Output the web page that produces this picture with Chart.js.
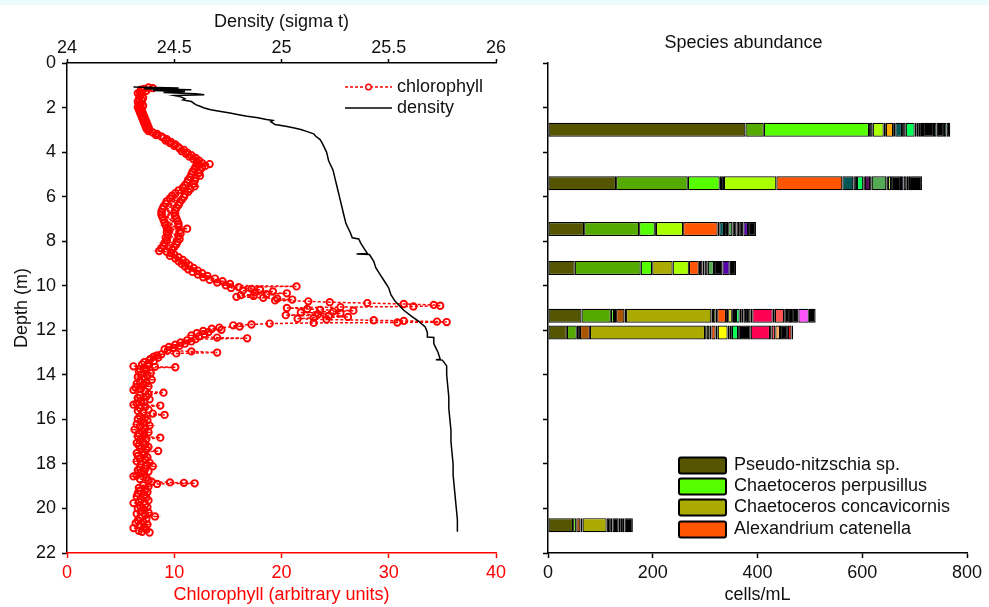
<!DOCTYPE html>
<html><head><meta charset="utf-8">
<script src="https://cdn.jsdelivr.net/npm/chart.js@4.4.1/dist/chart.umd.min.js"></script>
<style>
html,body{margin:0;padding:0;background:#fff;}
#wrap{position:relative;width:989px;height:607px;overflow:hidden;background:#fff;}
#band{position:absolute;left:0;top:0;width:989px;height:5px;background:#eefbfd;}
#profile{position:absolute;left:0;top:0;}
#species{position:absolute;left:520px;top:0;}
</style></head><body>
<div id="wrap"><div id="band"></div>
<canvas id="profile" width="520" height="607"></canvas>
<canvas id="species" width="469" height="607"></canvas>
</div>
<script>
// ---------- DATA ----------
// Chlorophyll profile: [depth (m), chlorophyll (arbitrary units)]
const chlorophyll = [
[1.10,7.6],[1.13,8.0],[1.16,7.2],[1.20,6.9],[1.25,7.4],[1.30,6.8],[1.36,6.6],[1.42,6.9],
[1.50,6.8],[1.56,7.1],[1.62,6.7],[1.68,7.0],[1.74,6.6],[1.80,6.9],[1.86,6.7],[1.92,7.1],[1.98,6.6],[2.04,6.9],
[2.10,6.7],[2.16,7.0],[2.22,6.8],[2.28,7.1],[2.34,6.9],[2.40,7.2],[2.46,7.0],[2.52,7.3],[2.58,7.1],[2.64,7.4],
[2.70,7.2],[2.76,7.5],[2.82,7.3],[2.88,7.6],[2.94,7.4],[3.00,7.7],[3.06,7.6],
[3.12,8.0],[3.18,8.4],[3.24,8.3],[3.30,8.8],[3.36,9.0],[3.42,9.3],[3.48,9.2],[3.54,9.7],[3.60,9.6],[3.66,10.1],
[3.72,10.0],[3.78,10.4],[3.84,10.5],[3.90,10.9],[3.96,10.7],[4.02,11.2],[4.08,11.1],[4.14,11.6],[4.20,11.4],
[4.26,12.0],[4.32,11.8],[4.38,12.3],[4.44,12.1],[4.50,12.6],[4.54,13.3],[4.58,12.2],[4.62,12.9],[4.66,12.0],
[4.70,12.6],[4.76,11.9],[4.82,12.4],[4.88,11.7],[4.94,12.3],[5.00,11.6],[5.06,12.4],[5.12,11.5],[5.18,12.0],
[5.24,11.3],[5.30,11.9],[5.36,11.2],[5.42,11.8],
[5.48,11.0],[5.54,11.9],[5.60,10.8],[5.66,11.5],[5.72,10.4],[5.78,11.3],[5.84,10.1],[5.90,11.0],[5.96,9.8],
[6.02,10.9],[6.08,9.6],[6.14,10.7],[6.20,9.3],[6.26,10.5],[6.32,9.2],[6.38,10.4],[6.44,9.0],[6.50,10.2],
[6.56,8.9],[6.62,10.1],[6.68,8.8],[6.74,10.0],[6.80,8.8],[6.86,10.1],[6.92,8.9],[6.98,10.2],[7.04,9.0],
[7.10,10.3],[7.16,9.1],[7.22,10.4],[7.28,9.2],[7.34,10.4],[7.40,9.3],[7.44,11.2],[7.48,9.4],[7.54,10.5],
[7.60,9.3],[7.66,10.6],[7.72,9.4],[7.78,10.4],[7.84,9.2],[7.90,10.5],[7.96,9.3],[8.02,10.3],[8.08,9.1],
[8.14,10.2],[8.20,9.0],[8.26,10.0],[8.32,8.8],[8.38,9.8],[8.44,8.6],[8.48,9.3],
[8.54,9.7],[8.60,10.0],
[8.66,9.6],[8.72,10.4],[8.78,10.1],[8.84,10.8],[8.90,10.4],[8.96,11.1],[9.02,10.7],[9.08,11.4],[9.14,11.0],
[9.20,11.8],[9.26,11.3],[9.32,12.2],[9.38,11.7],[9.44,12.6],[9.50,12.2],[9.56,13.1],[9.62,12.7],[9.68,13.8],
[9.74,13.3],[9.80,14.5],[9.86,14.0],[9.92,15.2],[9.98,14.8],[10.03,21.4],[10.06,16.0],[10.10,15.3],[10.14,17.2],
[10.18,18.0],[10.22,16.4],[10.26,19.2],[10.30,17.5],[10.34,20.5],[10.38,18.6],[10.42,16.2],[10.46,17.4],
[10.50,15.8],[10.54,18.3],[10.58,19.6],[10.62,21.0],[10.66,19.4],[10.70,22.5],[10.74,24.5],[10.78,28.0],
[10.82,31.4],[10.86,34.2],[10.90,34.8],[10.93,32.3],[10.96,25.5],[11.00,20.5],[11.04,22.4],[11.08,23.6],
[11.12,26.7],[11.16,24.8],[11.20,21.8],[11.24,25.5],[11.28,23.4],[11.32,20.4],[11.36,24.4],[11.40,26.2],
[11.44,23.0],[11.48,21.5],[11.52,24.2],[11.55,28.6],[11.58,31.4],[11.61,34.5],[11.63,35.4],[11.65,30.8],
[11.67,23.0],[11.70,18.9],[11.74,17.2],[11.78,15.5],[11.83,16.1],[11.88,14.2],[11.93,13.5],[11.98,14.4],
[12.03,12.7],[12.08,13.2],[12.13,12.1],[12.18,12.8],[12.23,11.6],[12.28,12.3],[12.33,14.0],[12.36,16.8],
[12.40,12.0],[12.45,11.2],[12.50,11.6],[12.55,10.6],[12.60,11.0],[12.65,10.1],[12.70,10.5],[12.75,9.5],
[12.80,9.9],[12.85,9.1],[12.90,9.4],[12.95,11.6],[13.00,14.0],[13.04,10.2],[13.08,8.8],[13.13,8.4],[13.18,8.1],
[13.23,8.5],[13.28,7.8],[13.33,7.7],[13.38,8.1],[13.43,7.2],[13.48,7.6],[13.53,7.0],[13.58,7.5],[13.62,6.2],
[13.64,8.2],[13.66,10.1],[13.70,7.3],[13.75,6.8],
[13.80,7.4],[13.86,6.7],[13.92,7.8],[13.98,6.9],[14.04,7.5],[14.10,6.6],[14.16,7.2],[14.22,7.9],[14.28,6.8],
[14.34,7.4],[14.40,6.5],[14.46,7.1],[14.52,7.6],[14.58,6.4],[14.64,6.9],[14.68,6.2],[14.74,7.3],[14.80,9.0],
[14.86,7.6],[14.92,6.8],[14.98,7.4],[15.04,6.6],[15.10,7.7],[15.16,6.9],[15.22,7.2],[15.28,6.5],[15.34,6.2],
[15.38,8.7],[15.44,7.3],[15.50,6.8],[15.56,7.6],[15.62,6.6],[15.68,7.1],[15.74,8.0],[15.80,9.1],[15.86,6.8],
[15.92,7.3],[15.98,6.6],[16.04,7.5],[16.10,6.9],[16.16,7.2],[16.22,6.5],[16.28,7.7],[16.34,6.8],[16.40,7.3],
[16.46,6.3],[16.52,7.0],[16.58,7.6],[16.64,6.7],[16.70,7.2],[16.76,6.6],[16.82,8.7],[16.88,7.4],[16.94,6.8],
[17.00,7.1],[17.06,6.5],[17.12,7.3],[17.18,6.7],[17.24,7.6],[17.30,6.9],[17.36,7.4],[17.42,8.5],[17.48,7.0],
[17.52,6.5],[17.58,7.2],[17.64,6.6],[17.70,7.5],[17.76,6.8],[17.82,7.3],[17.88,6.5],[17.94,7.7],[18.00,6.9],
[18.06,7.4],[18.11,8.0],[18.16,6.8],[18.22,7.3],[18.28,6.6],[18.34,7.6],[18.40,6.9],[18.46,7.2],[18.52,6.5],
[18.56,6.2],[18.62,7.4],[18.68,6.8],[18.74,7.6],[18.80,7.9],[18.83,9.6],[18.85,10.9],[18.87,11.9],[18.90,8.4],
[18.96,7.1],[19.02,7.6],[19.08,6.7],[19.14,7.3],[19.20,6.8],[19.26,7.5],[19.32,6.6],[19.38,7.2],[19.46,6.5],
[19.52,7.4],[19.58,6.9],[19.64,7.6],[19.70,6.7],[19.76,6.2],[19.82,7.3],[19.88,6.8],[19.94,7.5],[20.00,6.6],
[20.06,7.2],[20.12,6.9],[20.18,7.6],[20.24,6.5],[20.30,7.3],[20.36,8.2],[20.42,6.8],[20.48,7.4],[20.54,6.6],
[20.60,7.1],[20.66,6.4],[20.72,7.5],[20.78,6.8],[20.84,7.2],[20.88,6.2],[20.94,7.4],[21.00,6.7],[21.05,7.0],
[21.08,7.7]
];

// Density profile: [depth (m), sigma t]
const density = [
[1.08,24.31],[1.12,24.52],[1.16,24.36],[1.20,24.58],[1.24,24.40],[1.28,24.55],[1.32,24.45],[1.38,24.60],
[1.42,24.64],[1.46,24.50],[1.52,24.53],[1.60,24.55],[1.66,24.54],[1.73,24.58],[1.80,24.59],[1.87,24.60],
[1.94,24.62],[2.02,24.64],[2.10,24.67],[2.17,24.71],[2.25,24.76],[2.32,24.80],[2.39,24.84],[2.46,24.89],
[2.54,24.93],[2.58,24.96],[2.64,24.95],[2.70,24.96],[2.76,24.97],[2.84,25.02],[2.92,25.06],[2.99,25.09],
[3.08,25.12],[3.18,25.15],[3.29,25.16],[3.44,25.18],[3.60,25.19],[3.80,25.20],[4.00,25.21],[4.40,25.22],
[4.80,25.24],[5.20,25.25],[5.60,25.26],[6.00,25.27],[6.40,25.28],[6.80,25.29],[7.20,25.30],[7.60,25.32],
[7.85,25.33],[7.90,25.36],[8.10,25.37],[8.40,25.39],[8.55,25.40],[8.58,25.35],[8.60,25.41],[8.90,25.43],
[9.20,25.44],[9.50,25.46],[9.80,25.48],[10.10,25.50],[10.40,25.51],[10.70,25.53],[10.90,25.55],[11.10,25.57],
[11.40,25.61],[11.60,25.64],[11.85,25.67],[12.10,25.68],[12.30,25.68],[12.32,25.71],[12.60,25.71],
[12.80,25.72],[13.00,25.73],[13.30,25.74],[13.32,25.72],[13.34,25.75],[13.60,25.77],[14.00,25.77],
[14.50,25.775],[15.00,25.78],[15.50,25.78],[16.00,25.785],[16.50,25.79],[17.00,25.79],[17.50,25.795],
[18.00,25.80],[18.50,25.80],[19.00,25.805],[19.50,25.81],[20.00,25.815],[20.50,25.82],[20.90,25.82],[21.05,25.82]
];

// Species abundance samples (depth of each bar, m)
const barDepths = [3.0, 5.4, 7.45, 9.2, 11.35, 12.1, 20.75];
const speciesLabels = [
 "Pseudo-nitzschia sp.","Chaetoceros sp.","Chaetoceros perpusillus","Other taxa 1","Taxon D","Other taxa 2",
 "Chaetoceros concavicornis","Other taxa 3","Taxon F","Other taxa 4","Alexandrium catenella","Other taxa 5",
 "Taxon H","Other taxa 6","Taxon I","Other taxa 7","Taxon J","Other taxa 8","Taxon L","Other taxa 9",
 "Taxon M","Other taxa 10","Taxon N","Other taxa 11","Taxon O","Other taxa 12","Taxon P","Other taxa 13",
 "Taxon Q","Other taxa 14","Taxon R","Taxon S","Other taxa 15","Taxon T","Other taxa 16","Taxon U","Taxon V",
 "Other taxa 17","Taxon W","Other taxa 18","Taxon X","Other taxa 19"
];
// cells/mL per species, one value per bar depth
const cellsPerSpecies = [
 [377,130,69,51,64,36,48],
 [35,137,105,126,56,19,0],
 [201,61,30,22,6,0,6],
 [7,8,2,0,4,6,0],
 [0,0,0,0,16,19,8],
 [0,0,0,0,3,0,4],
 [0,0,0,39,163,220,46],
 [0,0,0,0,3,3,8],
 [21,100,52,31,5,5,0],
 [4,0,0,0,3,4,0],
 [0,126,66,19,17,8,0],
 [0,0,3,7,4,4,0],
 [14,0,0,0,0,0,0],
 [4,0,0,0,0,0,0],
 [0,0,0,0,7,19,0],
 [0,0,0,0,2,4,0],
 [13,21,9,4,4,4,3],
 [7,7,8,6,2,0,12],
 [17,12,0,0,7,12,0],
 [4,3,0,0,4,24,0],
 [0,10,0,0,0,0,0],
 [0,3,0,0,0,0,0],
 [4,28,8,12,3,0,4],
 [4,3,8,16,9,0,4],
 [4,6,0,0,5,0,3],
 [21,19,0,0,3,0,16],
 [0,0,5,0,0,0,0],
 [0,0,8,0,0,0,0],
 [0,0,0,0,39,37,0],
 [0,0,0,0,4,3,0],
 [0,0,0,0,18,7,0],
 [0,0,0,0,0,9,0],
 [0,0,0,0,11,15,0],
 [0,5,9,14,4,0,0],
 [0,6,15,12,12,0,0],
 [0,0,0,0,20,0,0],
 [5,0,0,0,0,0,0],
 [14,0,0,0,13,0,0],
 [5,4,0,0,0,0,0],
 [7,25,0,0,0,0,0],
 [0,0,0,0,0,7,0],
 [0,0,0,0,0,3,0]
];
const legendSpecies = ["Pseudo-nitzschia sp.","Chaetoceros perpusillus","Chaetoceros concavicornis","Alexandrium catenella"];

// ---------- STYLE ----------
const K = '#000000';
const speciesColors = [
 '#555500','#55aa00','#55ff00',K,'#aa5500',K,'#aaaa00',K,'#aaff00',K,'#ff5500',K,
 '#ffaa00',K,'#ffff00',K,'#005555',K,'#00ff55',K,'#550055',K,'#55aa55',K,'#aaff55',K,
 '#aa5555',K,'#ff0055',K,'#ff5555','#ffaa55',K,'#5500aa',K,'#ff55ff','#55aaaa',K,'#00aaaa',K,'#ff0000',K
];

Chart.defaults.font.family = '"Liberation Sans", Arial, Helvetica, sans-serif';
Chart.defaults.font.size = 18;
Chart.defaults.color = '#111';

function fixW(w){ return s => { s.width = w; s.paddingTop = 0; s.paddingBottom = 0; s.paddingLeft = 0; s.paddingRight = 0; }; }
function fixH(h){ return s => { s.height = h; s.paddingTop = 0; s.paddingBottom = 0; s.paddingLeft = 0; s.paddingRight = 0; }; }
const plainNumber = v => String(Math.round(v * 100) / 100);

const profileLegend = {
  id: 'profileLegend',
  afterDraw(chart) {
    const ctx = chart.ctx;
    const rows = [87, 108];
    chart.data.datasets.forEach((ds, i) => {
      const y = rows[i];
      ctx.save();
      ctx.strokeStyle = ds.borderColor;
      ctx.lineWidth = ds.borderWidth;
      ctx.setLineDash(ds.borderDash || []);
      ctx.beginPath(); ctx.moveTo(345, y); ctx.lineTo(392, y); ctx.stroke();
      ctx.setLineDash([]);
      if (ds.pointRadius > 0) {
        ctx.beginPath(); ctx.arc(368.5, y, 2.8, 0, Math.PI * 2);
        ctx.fillStyle = '#ffffff'; ctx.fill();
        ctx.lineWidth = 1.4; ctx.strokeStyle = ds.pointBorderColor; ctx.stroke();
      }
      ctx.fillStyle = '#111';
      ctx.font = '18px "Liberation Sans", Arial, sans-serif';
      ctx.textBaseline = 'middle'; ctx.textAlign = 'left';
      ctx.fillText(ds.label, 397, y);
      ctx.restore();
    });
  }
};

const speciesLegend = {
  id: 'speciesLegend',
  afterDraw(chart) {
    const ctx = chart.ctx;
    const rows = [465.5, 486.5, 507.5, 529.5];
    legendSpecies.forEach((name, k) => {
      const ds = chart.data.datasets.find(d => d.label === name);
      const y = rows[k];
      ctx.save();
      ctx.fillStyle = ds.backgroundColor;
      ctx.strokeStyle = '#000'; ctx.lineWidth = 2;
      ctx.beginPath();
      if (ctx.roundRect) ctx.roundRect(159, y - 8, 47, 16, 2); else ctx.rect(159, y - 8, 47, 16);
      ctx.fill(); ctx.stroke();
      ctx.fillStyle = '#111';
      ctx.font = '18px "Liberation Sans", Arial, sans-serif';
      ctx.textBaseline = 'middle'; ctx.textAlign = 'left';
      ctx.fillText(name, 214, y);
      ctx.restore();
    });
  }
};

// ---------- LEFT: profile ----------
new Chart(document.getElementById('profile'), {
  type: 'scatter',
  data: { datasets: [
    { label: 'chlorophyll', data: chlorophyll.map(([d, c]) => ({ x: c, y: d })), xAxisID: 'xChl', yAxisID: 'y',
      showLine: true, borderColor: '#ff0000', borderWidth: 1.5, borderDash: [3, 2],
      pointRadius: 3.2, pointBorderWidth: 1.9, pointBorderColor: '#ff0000', pointBackgroundColor: 'rgba(255,255,255,0)', order: 2 },
    { label: 'density', data: density.map(([d, s]) => ({ x: s, y: d })), xAxisID: 'xDen', yAxisID: 'y',
      showLine: true, borderColor: '#000000', borderWidth: 1.5, pointRadius: 0, order: 1 }
  ]},
  options: {
    responsive: false, animation: false, events: [],
    layout: { padding: { left: 0, right: 24, top: 0, bottom: 0 } },
    plugins: { legend: { display: false }, tooltip: { enabled: false } },
    scales: {
      y: { type: 'linear', position: 'left', reverse: true, min: 0, max: 22, afterFit: fixW(67),
        ticks: { stepSize: 2, padding: 6 },
        grid: { drawOnChartArea: false, drawTicks: true, tickLength: 5, tickColor: '#000', tickWidth: 1.5 },
        border: { display: true, color: '#000', width: 1.5 },
        title: { display: true, text: 'Depth (m)', padding: { top: 11, bottom: 0 } } },
      xChl: { type: 'linear', position: 'bottom', min: 0, max: 40, afterFit: fixH(54),
        ticks: { stepSize: 10, padding: 4, color: '#ff0000' },
        grid: { drawOnChartArea: false, tickLength: 5, tickColor: '#ff0000', tickWidth: 1.5 },
        border: { color: '#ff0000', width: 1.5 },
        title: { display: true, text: 'Chlorophyll (arbitrary units)', color: '#ff0000', padding: { top: 0, bottom: 1 } } },
      xDen: { type: 'linear', position: 'top', min: 24, max: 26, afterFit: fixH(63),
        ticks: { stepSize: 0.5, padding: 0, callback: plainNumber },
        grid: { drawOnChartArea: false, tickLength: 4, tickColor: '#000', tickWidth: 1.5 },
        border: { color: '#000', width: 1.5 },
        title: { display: true, text: 'Density (sigma t)', padding: { top: 11, bottom: 0 } } }
    }
  },
  plugins: [profileLegend]
});

// ---------- RIGHT: species abundance ----------
new Chart(document.getElementById('species'), {
  type: 'bar',
  data: { datasets: speciesLabels.map((label, i) => ({
    label,
    data: barDepths.map((d, j) => ({ x: cellsPerSpecies[i][j], y: d })),
    backgroundColor: speciesColors[i], borderColor: '#000', borderWidth: 1.2, borderSkipped: false,
    barThickness: 14, inflateAmount: 0
  })) },
  options: {
    indexAxis: 'y', responsive: false, animation: false, events: [],
    layout: { padding: { left: 0, right: 22, top: 0, bottom: 0 } },
    plugins: { legend: { display: false }, tooltip: { enabled: false },
      title: { display: true, text: 'Species abundance', color: '#111', font: { size: 18, weight: 'normal' }, padding: { top: 32, bottom: 9.4 } } },
    scales: {
      x: { type: 'linear', position: 'bottom', stacked: true, min: 0, max: 800, afterFit: fixH(54),
        ticks: { stepSize: 200, padding: 4 },
        grid: { drawOnChartArea: false, tickLength: 5, tickColor: '#000', tickWidth: 1.5 },
        border: { color: '#000', width: 1.5 },
        title: { display: true, text: 'cells/mL', padding: { top: 0, bottom: 1 } } },
      y: { type: 'linear', position: 'left', stacked: true, reverse: true, min: 0, max: 22, offset: false, afterFit: fixW(28),
        ticks: { stepSize: 2, callback: () => '' },
        grid: { offset: false, drawOnChartArea: false, tickLength: 5, tickColor: '#000', tickWidth: 1.5 },
        border: { color: '#000', width: 1.5 } }
    }
  },
  plugins: [speciesLegend]
});
</script>
</body></html>
